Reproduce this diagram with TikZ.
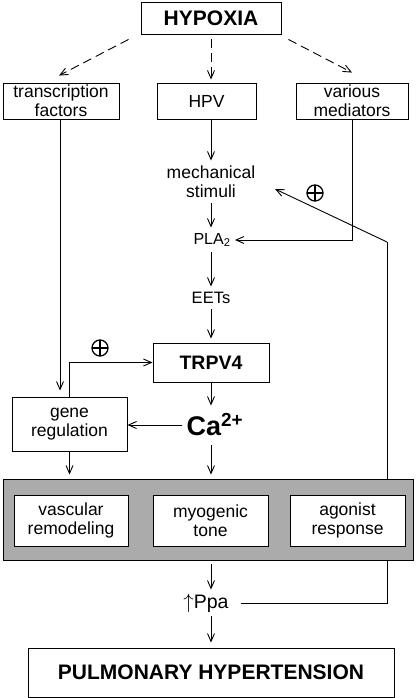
\documentclass[tikz,border=0pt]{standalone}
\usepackage{fontspec}
\setmainfont{Liberation Sans}
\usetikzlibrary{arrows.meta,calc}
\begin{document}
\begin{tikzpicture}[x=1pt,y=-1pt,line width=0.9pt,
  arr/.style={-{Straight Barb[length=8pt,width=7pt,line width=0.9pt]}},
  box/.style={draw,fill=white,rectangle,inner sep=0pt,align=center,font=\fontsize{17.5}{19}\selectfont},
  txt/.style={inner sep=0pt,align=center,font=\fontsize{17.5}{19}\selectfont},
  dsh/.style={arr,dash pattern=on 9pt off 5pt},
  plus/.style={circle,draw,line width=1.3pt,minimum size=16pt,inner sep=0pt,
    path picture={\draw[line width=1.3pt] (path picture bounding box.north) -- (path picture bounding box.south)
      (path picture bounding box.west) -- (path picture bounding box.east);}}]
\useasboundingbox (0,0) rectangle (416,698);
% nodes
\node[box,minimum width=140,minimum height=32,font=\fontsize{21}{21}\selectfont\bfseries] (hyp) at (211,18) {HYPOXIA};
\node[box,minimum width=116,minimum height=36] (tf) at (61,101) {transcription\\factors};
\node[box,minimum width=99,minimum height=36] (hpv) at (206.5,101) {HPV};
\node[box,minimum width=112,minimum height=36] (vm) at (352,101) {various\\mediators};
\node[txt,minimum height=38] (mech) at (211,182) {mechanical\\stimuli};
\node[txt,font=\fontsize{16}{16}\selectfont,minimum height=20] (pla) at (212,240) {PLA\textsubscript{2}};
\node[txt,font=\fontsize{16.5}{16.5}\selectfont,minimum height=18] (eets) at (211,298) {EETs};
\node[box,minimum width=116,minimum height=39,font=\fontsize{19.5}{19.5}\selectfont\bfseries] (trpv) at (211,362.5) {TRPV4};
\node[txt,font=\fontsize{27}{27}\selectfont\bfseries,minimum height=34] (ca) at (215,425) {Ca\textsuperscript{2+}};
\node[box,minimum width=115,minimum height=54] (gene) at (69.5,424) {gene\\regulation};
\node[draw,fill=black!33,rectangle,minimum width=410,minimum height=81,inner sep=0pt] (gray) at (208,519.5) {};
\node[box,minimum width=114,minimum height=51] (vasc) at (71,520.5) {vascular\\remodeling};
\node[box,minimum width=115,minimum height=51] (myo) at (210.5,520.5) {myogenic\\tone};
\node[box,minimum width=115,minimum height=51] (ago) at (347.5,520.5) {agonist\\response};
\node[txt,font=\fontsize{19.5}{19.5}\selectfont,minimum height=22] (ppa) at (206,603) {$\uparrow$Ppa};
\node[box,minimum width=366,minimum height=49,font=\fontsize{21}{21}\selectfont\bfseries] (ph) at (211,672.5) {PULMONARY HYPERTENSION};
\node[plus] (p1) at (315,193) {};
\node[plus] (p2) at (100,348) {};
\coordinate (fb) at (387,242);
\coordinate (mechin) at (275,189);
% dashed arrows
\draw[dsh] ([shift={(-12,5)}]hyp.south west) -- ([shift={(-2,-7)}]tf.north);
\draw[dsh] ([shift={(0,5)}]hyp.south) -- ([shift={(0,-3)}]hyp.south |- hpv.north);
\draw[dsh] ([shift={(7,5)}]hyp.south east) -- ([shift={(0,-10)}]vm.north);
% main chain
\draw[arr,shorten >=6pt] ([xshift=-1pt]tf.south) -- ([xshift=-1pt]tf.south |- gene.north);
\draw[arr,shorten >=2pt] (mech.north |- hpv.south) -- (mech.north);
\draw[arr,shorten <=2pt,shorten >=2pt] (mech.south) -- (mech.south |- pla.north);
\draw[arr,shorten <=2pt,shorten >=2pt] (mech.south |- pla.south) -- (eets.north);
\draw[arr,shorten <=2pt,shorten >=4pt] (eets.south) -- (eets.south |- trpv.north);
\draw[arr,shorten >=4pt] (vm.south) |- (pla.east);
\draw (gray.north -| fb) -- (fb);
\draw[arr] (fb) -- (mechin);
\draw[arr] (gene.north) |- (trpv.west);
\draw[arr,shorten >=2pt] (trpv.south) -- (trpv.south |- ca.north);
\draw[arr,shorten <=4pt] (ca.west) -- (gene.east |- ca.west);
\draw[arr,shorten >=4pt] (gene.south) -- (gene.south |- gray.north);
\draw[arr,shorten <=3pt,shorten >=4pt] (ca.south -| trpv.south) -- (trpv.south |- gray.north);
\draw[arr,shorten <=4pt,shorten >=2pt] (gray.south -| trpv.south) -- (trpv.south |- ppa.north);
\draw[shorten <=12pt] (ppa.east) -| (gray.south -| fb);
\draw[arr,shorten <=2pt,shorten >=5pt] (trpv.south |- ppa.south) -- (trpv.south |- ph.north);
\end{tikzpicture}
\end{document}
